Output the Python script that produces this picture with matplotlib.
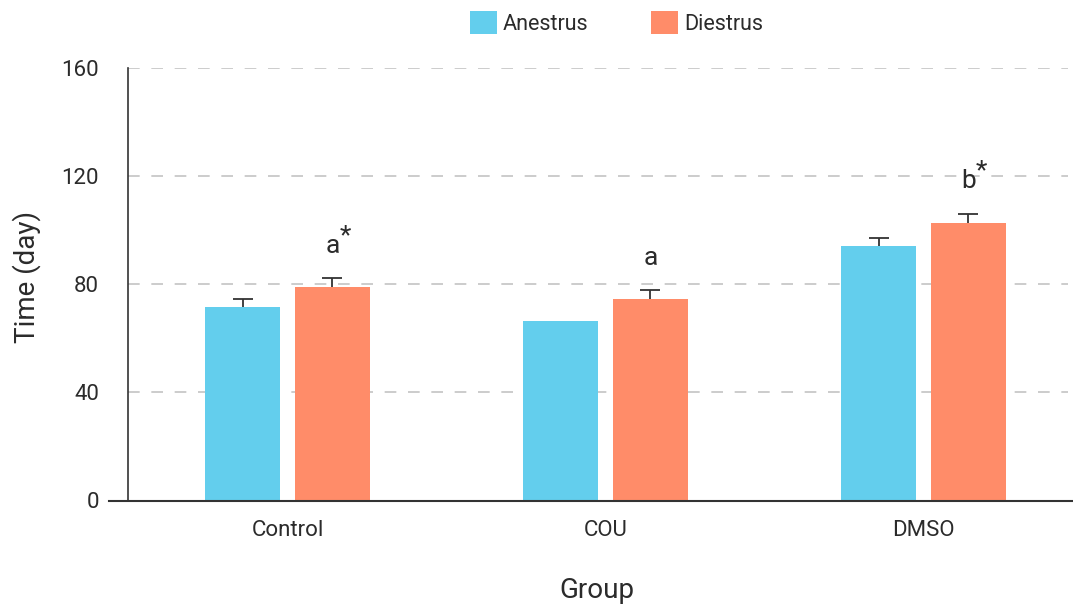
import numpy as np
import matplotlib
matplotlib.use("Agg")
import matplotlib.pyplot as plt

plt.rcParams["font.family"] = ["Roboto", "DejaVu Sans"]

groups = ["Control", "COU", "DMSO"]
series = ["Anestrus", "Diestrus"]
anestrus = [71.7, 66.6, 94.3]
anestrus_err = [3.0, 0.0, 3.0]
diestrus = [79.1, 74.7, 102.8]
diestrus_err = [3.1, 3.2, 3.4]
letters = ["a", "a", "b"]
stars = ["*", "", "*"]
yticks = [0, 40, 80, 120, 160]

colors = ["#63CEED", "#FF8C69"]
text_col = "#2b2b2b"

fig = plt.figure(figsize=(10.73, 6.05), dpi=100)
ax = fig.add_axes([109 / 1073, 1 - 500.5 / 605, 1 - 109 / 1073, (500.5 - 68.3) / 605])

x = np.arange(len(groups))
w = 0.236
off = 0.1415

for vals, errs, sign, col, name in [
    (anestrus, anestrus_err, -1, colors[0], series[0]),
    (diestrus, diestrus_err, 1, colors[1], series[1]),
]:
    xs = x + sign * off
    ax.bar(xs, vals, width=w, color=col, label=name, zorder=2)
    vals = np.array(vals)
    errs = np.array(errs)
    m = errs > 0
    eb = ax.errorbar(xs[m], vals[m], yerr=[np.zeros(m.sum()), errs[m]], fmt="none",
                     ecolor="#333333", elinewidth=1.3, capsize=7, capthick=1.3, zorder=3)
    # only the upper cap is shown
    for cap in eb[1]:
        if np.allclose(cap.get_ydata(), vals[m]):
            cap.set_visible(False)

# significance letters above Diestrus bars
for i in range(len(groups)):
    top = diestrus[i] + diestrus_err[i] + 7.5
    ax.text(x[i] + off, top, letters[i], ha="center", va="bottom",
            fontsize=19, color=text_col, zorder=4)
    if stars[i]:
        ax.annotate(stars[i], xy=(x[i] + off, top), xytext=(9, 16),
                    textcoords="offset points", ha="center", va="center",
                    fontsize=19, color=text_col)

# dashed grid
x0 = (128 - 287.5) / 318
x1 = (1068 - 287.5) / 318
for t in yticks[1:]:
    ax.plot([x0, x1], [t, t], color="#c4c4c4", lw=1.2, dashes=(7, 7), zorder=1)

ax.set_xlim((109 - 287.5) / 318, (1073 - 287.5) / 318)
ax.set_ylim(0, 160)
ax.set_yticks(yticks)
ax.set_xticks(x)
ax.set_xticklabels(groups)
ax.tick_params(axis="y", length=0, pad=21, labelsize=16, labelcolor=text_col)
ax.tick_params(axis="x", length=0, pad=14, labelsize=16, labelcolor=text_col)

for s in ["top", "right"]:
    ax.spines[s].set_visible(False)
ax.spines["left"].set_position(("data", x0))
ax.spines["left"].set_color("#333333")
ax.spines["bottom"].set_color("#333333")
ax.spines["left"].set_linewidth(1.2)
ax.spines["bottom"].set_linewidth(1.5)

fig.text(27 / 1073, 1 - 277 / 605, "Time (day)", rotation=90, ha="center", va="center",
         fontsize=20, color=text_col)
fig.text(597 / 1073, 1 - 590 / 605, "Group", ha="center", va="center",
         fontsize=20, color=text_col)

fig.legend(loc="center", bbox_to_anchor=(616.5 / 1073, 1 - 23 / 605), ncol=2,
           frameon=False, fontsize=15.5, handlelength=1.25, handleheight=1.25,
           handletextpad=0.3, columnspacing=2.9, labelcolor=text_col)

fig.savefig("out.png", dpi=100)
